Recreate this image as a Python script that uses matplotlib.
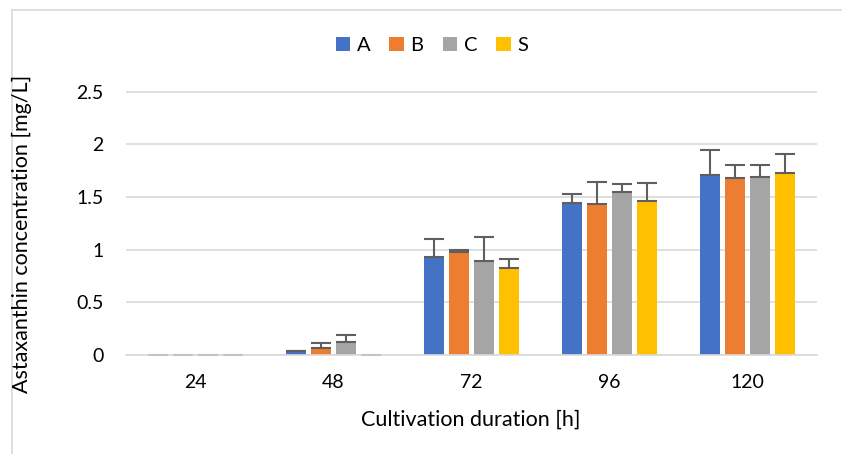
import matplotlib.pyplot as plt
import numpy as np
from matplotlib.lines import Line2D

plt.rcParams['font.family'] = ['Lato', 'DejaVu Sans']

hours = ['24', '48', '72', '96', '120']
series = ['A', 'B', 'C', 'S']

a_mean = [0.0, 0.035, 0.934, 1.444, 1.707]
b_mean = [0.0, 0.064, 0.978, 1.434, 1.678]
c_mean = [0.0, 0.120, 0.893, 1.548, 1.694]
s_mean = [0.0, 0.0, 0.826, 1.462, 1.725]

a_err = [0.0, 0.007, 0.166, 0.085, 0.243]
b_err = [0.0, 0.046, 0.019, 0.209, 0.122]
c_err = [0.0, 0.070, 0.231, 0.073, 0.110]
s_err = [0.0, 0.0, 0.089, 0.175, 0.187]

colors = ['#4472C4', '#ED7D31', '#A5A5A5', '#FFC000']

means = [a_mean, b_mean, c_mean, s_mean]
errs = [a_err, b_err, c_err, s_err]

W, H = 842, 454
fig = plt.figure(figsize=(W / 100, H / 100), dpi=100)
ax = fig.add_axes([126 / W, (H - 355) / H, (817 - 126) / W, (355 - 86.5) / H])

x = np.arange(len(hours))
width = 0.145
step = 0.181
for i, (name, m, e, col) in enumerate(zip(series, means, errs, colors)):
    pos = x + (i - 1.5) * step
    m = np.array(m)
    e = np.array(e)
    ax.bar(pos, m, width, color=col, label=name, zorder=2)
    nz = e > 0
    ax.errorbar(pos[nz], m[nz], yerr=[np.zeros(nz.sum()), e[nz]], fmt='none',
                ecolor='#5f5f5f', elinewidth=1.5, capsize=7, capthick=1.5, zorder=3)
    # zero-length error bars only show a faint cap on the baseline
    ax.errorbar(pos[~nz], m[~nz], yerr=[np.zeros((~nz).sum()), e[~nz]], fmt='none',
                ecolor='#c4c4c4', elinewidth=1.5, capsize=7, capthick=1.5, zorder=3)

ax.set_xlim(-0.5, len(hours) - 0.5)
ax.set_ylim(0, 2.55)
ax.set_yticks([0, 0.5, 1, 1.5, 2, 2.5])
ax.set_yticklabels(['0', '0.5', '1', '1.5', '2', '2.5'])
ax.set_xticks(x)
ax.set_xticklabels(hours)
ax.tick_params(axis='both', length=0, labelsize=14, colors='#000000')
ax.tick_params(axis='y', pad=16)
ax.tick_params(axis='x', pad=14)

ax.yaxis.grid(True, color='#D9D9D9', linewidth=1.2, zorder=0)
ax.set_axisbelow(True)
for side in ['top', 'right', 'left']:
    ax.spines[side].set_visible(False)
ax.spines['bottom'].set_color('#D9D9D9')
ax.spines['bottom'].set_linewidth(1.2)

fig.text(22 / W, 1 - 234 / H, 'Astaxanthin concentration [mg/L]', rotation=90,
         ha='center', va='center', fontsize=15.5)
fig.text(471 / W, 1 - 420 / H, 'Cultivation duration [h]',
         ha='center', va='center', fontsize=15.5)

fig.legend(loc='center', bbox_to_anchor=(432 / W, 1 - 45.5 / H), ncol=4, frameon=False,
           fontsize=14.5, handlelength=0.7, handleheight=0.7, handletextpad=0.35,
           columnspacing=0.95)

# outer chart border (top and left edges)
fig.add_artist(Line2D([11.5 / W, 11.5 / W], [0, 1 - 10 / H], color='#D9D9D9', lw=1.2))
fig.add_artist(Line2D([11.5 / W, 1], [1 - 10 / H, 1 - 10 / H], color='#D9D9D9', lw=1.2))

fig.savefig('out.png', dpi=100)
